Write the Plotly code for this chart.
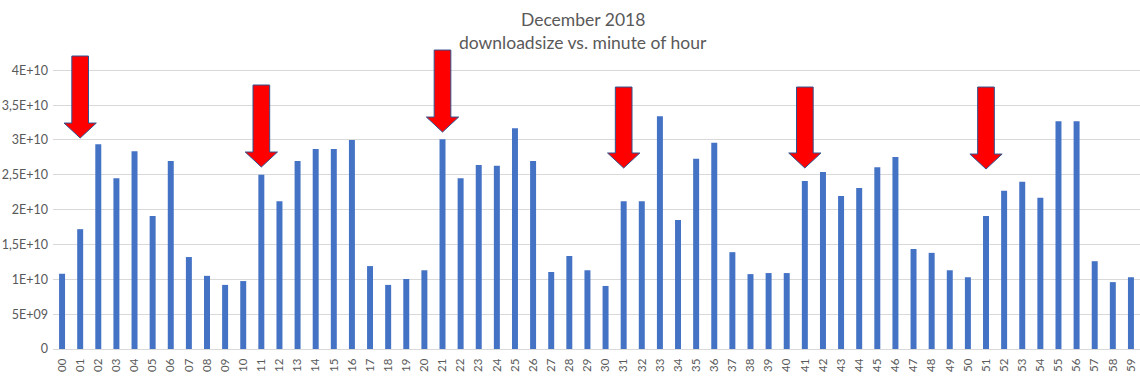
import plotly.graph_objects as go

# ---- data ----
minute_labels = [f"{m:02d}" for m in range(60)]
download_size = [
    1.08e10, 1.72e10, 2.94e10, 2.45e10, 2.84e10, 1.91e10, 2.70e10, 1.32e10, 1.05e10, 0.92e10,
    0.975e10, 2.50e10, 2.12e10, 2.70e10, 2.87e10, 2.87e10, 3.00e10, 1.19e10, 0.92e10, 1.005e10,
    1.13e10, 3.01e10, 2.45e10, 2.64e10, 2.63e10, 3.17e10, 2.70e10, 1.105e10, 1.335e10, 1.13e10,
    0.905e10, 2.12e10, 2.12e10, 3.34e10, 1.85e10, 2.73e10, 2.96e10, 1.39e10, 1.075e10, 1.09e10,
    1.09e10, 2.41e10, 2.54e10, 2.195e10, 2.31e10, 2.61e10, 2.755e10, 1.435e10, 1.38e10, 1.13e10,
    1.03e10, 1.91e10, 2.27e10, 2.40e10, 2.17e10, 3.27e10, 3.27e10, 1.26e10, 0.96e10, 1.03e10,
]
y_tick_values = [0, 0.5e10, 1e10, 1.5e10, 2e10, 2.5e10, 3e10, 3.5e10, 4e10]
y_tick_labels = ["0", "5E+09", "1E+10", "1,5E+10", "2E+10", "2,5E+10", "3E+10", "3,5E+10", "4E+10"]
title_lines = ["December 2018", "downloadsize vs. minute of hour"]

arrow_minutes = [1, 11, 21, 31, 41, 51]
arrow_tip = [3.028e10, 2.612e10, 3.114e10, 2.598e10, 2.598e10, 2.583e10]
arrow_top = [4.205e10, 3.789e10, 4.291e10, 3.760e10, 3.760e10, 3.760e10]

# ---- style constants ----
BAR_COLOR = "#4472C4"
GRID_COLOR = "#D9D9D9"
TEXT_COLOR = "#595959"
SHAFT_HALF = 0.46      # in category units
HEAD_HALF = 0.89
HEAD_LEN = 0.215e10    # in value units

x_idx = list(range(len(minute_labels)))

fig = go.Figure()
fig.add_trace(go.Bar(
    x=x_idx, y=download_size, marker=dict(color=BAR_COLOR, line=dict(width=0)),
    width=0.33, hoverinfo="y",
))

shapes = []
for m, tip, top in zip(arrow_minutes, arrow_tip, arrow_top):
    base = tip + HEAD_LEN
    path = (f"M {m-SHAFT_HALF},{top} L {m+SHAFT_HALF},{top} L {m+SHAFT_HALF},{base} "
            f"L {m+HEAD_HALF},{base} L {m},{tip} L {m-HEAD_HALF},{base} "
            f"L {m-SHAFT_HALF},{base} Z")
    shapes.append(dict(type="path", xref="x", yref="y", path=path,
                       fillcolor="#FF0000", line=dict(color="#2F528F", width=1),
                       layer="above"))

title_x = (583 - 53) / 1087
annotations = [
    dict(text=title_lines[0], xref="paper", yref="paper", x=title_x, y=1.089,
         xanchor="center", yanchor="middle", showarrow=False,
         font=dict(size=17.5, color=TEXT_COLOR)),
    dict(text=title_lines[1], xref="paper", yref="paper", x=title_x, y=1.010,
         xanchor="center", yanchor="middle", showarrow=False,
         font=dict(size=17.5, color=TEXT_COLOR)),
]

fig.update_layout(
    width=1140, height=378,
    margin=dict(l=53, r=0, t=46, b=29, autoexpand=False),
    paper_bgcolor="white", plot_bgcolor="white",
    showlegend=False,
    font=dict(family="Lato, Open Sans, sans-serif", color=TEXT_COLOR, size=12),
    shapes=shapes,
    annotations=annotations,
    xaxis=dict(range=[-0.5, 59.5], tickvals=x_idx, ticktext=minute_labels,
               tickangle=-90, showgrid=False, zeroline=False,
               showline=True, linecolor=GRID_COLOR, linewidth=1,
               ticks="", ticklen=0, ticklabelstandoff=4, automargin=False,
               tickfont=dict(size=11.5, color=TEXT_COLOR), fixedrange=True),
    yaxis=dict(range=[0, 4.349e10], tickvals=y_tick_values, ticktext=y_tick_labels,
               showgrid=True, gridcolor=GRID_COLOR, gridwidth=1, zeroline=False,
               showline=False, ticks="", ticklen=0, ticklabelstandoff=4, automargin=False,
               tickfont=dict(size=12.5, color=TEXT_COLOR), fixedrange=True),
)

fig.write_html("out.html")
